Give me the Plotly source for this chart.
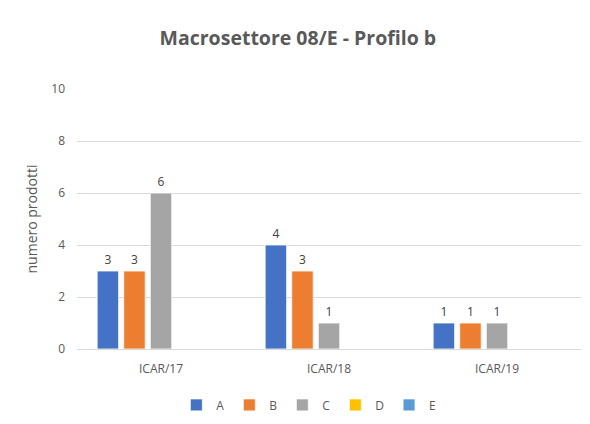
import plotly.graph_objects as go

categories = ["ICAR/17", "ICAR/18", "ICAR/19"]
series_names = ["A", "B", "C", "D", "E"]
values_A = [3, 4, 1]
values_B = [3, 3, 1]
values_C = [6, 1, 1]
values_D = [None, None, None]
values_E = [None, None, None]
colors = ["#4472C4", "#ED7D31", "#A5A5A5", "#FFC000", "#5B9BD5"]
y_ticks = [0, 2, 4, 6, 8, 10]

all_values = [values_A, values_B, values_C, values_D, values_E]

fig = go.Figure()
for name, vals, col in zip(series_names, all_values, colors):
    fig.add_trace(go.Bar(
        x=categories, y=vals, name=name,
        marker=dict(color=col, line=dict(color="white", width=0.8)),
        text=[("" if v is None else str(v)) for v in vals],
        textposition="outside",
        textfont=dict(size=12, color="#404040", family="Open Sans"),
        cliponaxis=False,
    ))

# page body has an 8px default margin, so the figure is sized/offset accordingly
fig.update_layout(
    width=574, height=408,
    margin=dict(l=69, r=1, t=81, b=67, autoexpand=False),
    paper_bgcolor="white", plot_bgcolor="white",
    barmode="group", bargap=0.21, bargroupgap=0.19,
    title=dict(text="<b>Macrosettore 08/E - Profilo b</b>", x=0.505, xanchor="center",
               xref="container", y=0.9265, yanchor="middle",
               font=dict(size=19.5, color="#595959", family="Open Sans")),
    font=dict(family="Open Sans", color="#595959", size=12),
    legend=dict(orientation="h", x=0.46, xanchor="center", y=-0.215, yanchor="middle",
                font=dict(size=12, color="#595959"), itemwidth=30,
                traceorder="normal"),
    showlegend=True,
)
fig.update_yaxes(range=[0, 10], tickvals=y_ticks, showgrid=True, gridcolor="#D9D9D9",
                 gridwidth=1, zeroline=False, showline=False,
                 ticks="", ticklen=0, ticklabelstandoff=11,
                 tickfont=dict(size=12, color="#595959"),
                 title=dict(text="numero prodotti", font=dict(size=14, color="#595959"), standoff=10))
fig.update_xaxes(showline=True, linecolor="#D9D9D9", linewidth=1, ticks="",
                 ticklabelstandoff=9,
                 tickfont=dict(size=12, color="#595959"))

fig.write_html("out.html")
